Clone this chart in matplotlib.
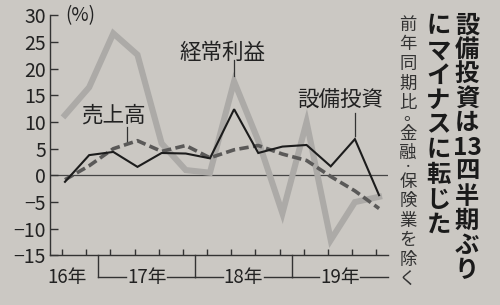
import matplotlib
matplotlib.use("Agg")
import matplotlib.pyplot as plt
import matplotlib.transforms as mtransforms
import numpy as np

plt.rcParams["font.family"] = ["Noto Sans CJK JP", "DejaVu Sans"]
plt.rcParams["axes.unicode_minus"] = True

# 前年同期比 (%), 2016年7-9月期 .. 2019年10-12月期
quarters = ["16-3", "16-4", "17-1", "17-2", "17-3", "17-4", "18-1",
            "18-2", "18-3", "18-4", "19-1", "19-2", "19-3", "19-4"]
keijo_rieki = [11.3, 16.5, 26.6, 22.6, 6.0, 1.0, 0.5, 17.6, 6.5, -7.1, 10.0, -12.1, -5.0, -4.0]
uriage = [-0.8, 1.8, 5.0, 6.5, 4.5, 5.6, 3.3, 4.8, 5.6, 4.0, 2.8, -0.2, -2.9, -6.2]
setsubi = [-1.2, 3.8, 4.4, 1.6, 4.2, 4.1, 3.2, 12.4, 4.2, 5.4, 5.7, 1.7, 6.8, -3.7]

year_labels = ["16年", "17年", "18年", "19年"]
year_label_pos = [0.2, 3.5, 7.5, 11.5]   # in quarter index units
year_breaks = [1.5, 5.5, 9.5]
yticks = list(range(-15, 31, 5))

BG = "#cbc8c3"
INK = "#222222"
W, H = 500, 305
SHIFT = 0.12  # ticks sit a little left of the plotted points
XMAX = 13.37

fig = plt.figure(figsize=(5, 3.05), dpi=100, facecolor=BG)
ax = fig.add_axes([0.1, 0.1623, 0.676, 0.7877])
ax.set_facecolor(BG)

x = np.arange(len(quarters))
ax.plot(x, keijo_rieki, color="#acaaa7", lw=4.4, solid_joinstyle="miter", zorder=2)
ax.plot(x, uriage, color="#5a5958", lw=2.6, dashes=(2.6, 1.2), zorder=3)
ax.plot(x, setsubi, color="#1c1c1c", lw=1.5, solid_joinstyle="miter", zorder=4)
ax.axhline(0, color="#454545", lw=0.9, zorder=1)

ax.set_xlim(-0.62, XMAX)
ax.set_ylim(-15, 30)
ax.set_xticks(x - SHIFT)
ax.set_xticklabels([])
ax.set_yticks(yticks)
ax.set_yticklabels([str(v).replace("-", "\u2212") for v in yticks])
ax.tick_params(axis="y", direction="in", length=6, width=1, pad=3,
               labelsize=14, colors="#333333", labelcolor=INK)
ax.tick_params(axis="x", direction="in", length=4, width=1, colors="#333333")
for side in ["top", "right"]:
    ax.spines[side].set_visible(False)
for side in ["left", "bottom"]:
    ax.spines[side].set_color("#333333")
    ax.spines[side].set_linewidth(1)

# year axis below the plot
trans = mtransforms.blended_transform_factory(ax.transData, ax.transAxes)
y_year = -0.09
half = 0.85
centers = [p - SHIFT for p in year_label_pos]
for i, b in enumerate(year_breaks):
    ax.plot([b - SHIFT, b - SHIFT], [0, y_year], color="#333333", lw=1,
            transform=trans, clip_on=False)
    ax.plot([b - SHIFT, centers[i + 1] - half], [y_year, y_year], color="#333333",
            lw=1, transform=trans, clip_on=False)
ends = [b - SHIFT for b in year_breaks[1:]] + [XMAX]
for c, e in zip(centers[1:], ends):
    ax.plot([c + half, e], [y_year, y_year], color="#333333", lw=1,
            transform=trans, clip_on=False)
for lab, c in zip(year_labels, centers):
    ax.text(c, y_year, lab, transform=trans, ha="center", va="center",
            fontsize=13.5, color=INK)

ax.text(0.0, 30, "(%)", ha="left", va="center", fontsize=13.5, color=INK)

# series labels with leader lines
ax.text(2.0, 11.3, "売上高", ha="center", va="center", fontsize=15.5, color=INK)
ax.plot([2.55, 2.55], [9.1, 6.0], color="#333333", lw=0.9)
ax.text(6.5, 22.9, "経常利益", ha="center", va="center", fontsize=15.5, color=INK)
ax.plot([7, 7], [21.7, 18.6], color="#333333", lw=0.9)
ax.text(11.4, 14.1, "設備投資", ha="center", va="center", fontsize=15.5, color=INK)
ax.plot([12, 12], [11.7, 7.4], color="#333333", lw=0.9)


def vertical_text(tokens, x_px, y_top, pitch, size, **kw):
    em = size * 100 / 72
    y = y_top
    for ch in tokens:
        if ch == "。":
            # horizontal-form glyph sits bottom-left of its em box: shift it
            step = pitch * 0.55
            fig.text((x_px - 0.25 * em) / W, 1 - (y + step * 0.5 + 0.09 * em) / H, ch,
                     ha="left", va="baseline", fontsize=size, **kw)
        elif ch == "・":
            step = pitch * 0.45
            fig.text(x_px / W, 1 - (y + step * 0.5) / H, ch,
                     ha="center", va="center", fontsize=size * 0.6, **kw)
        else:
            step = pitch
            fig.text(x_px / W, 1 - (y + step * 0.5) / H, ch,
                     ha="center", va="center", fontsize=size, **kw)
        y += step


vertical_text(["設", "備", "投", "資", "は", "13", "四", "半", "期", "ぶ", "り"],
              467, 13, 24.5, 17.5, fontweight="bold", color="#1a1a1a")
vertical_text(list("にマイナスに転じた"), 438.5, 14, 24.8, 17.5,
              fontweight="bold", color="#1a1a1a")
vertical_text(list("前年同期比。金融・保険業を除く"), 408, 15, 19.6, 12.5,
              color="#333333")

fig.savefig("out.png", dpi=100, facecolor=BG)
